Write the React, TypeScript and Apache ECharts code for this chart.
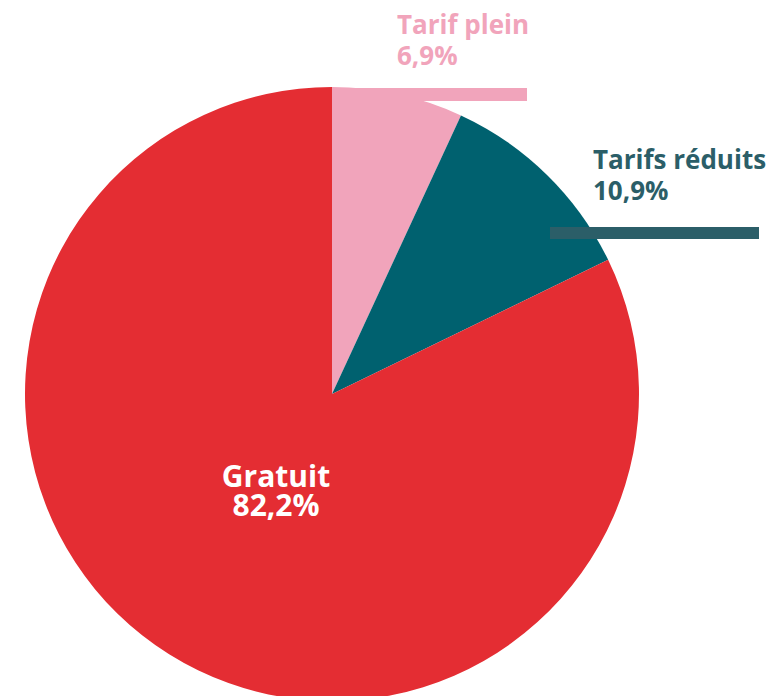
import React, { useEffect, useRef } from "react";
import * as echarts from "echarts";

const categories = ["Tarif plein", "Tarifs réduits", "Gratuit"];
const values = [6.9, 10.9, 82.2];
const sliceColors = ["#F1A4BB", "#00616F", "#E42D33"];
const labelColors = ["#F1A4BB", "#2B5E68", "#FFFFFF"];

const fmt = (v: number) => v.toFixed(1).replace(".", ",") + "%";

export default function App() {
  const ref = useRef<HTMLDivElement>(null);
  useEffect(() => {
    if (!ref.current) return;
    const chart = echarts.init(ref.current, null, { renderer: "svg" });
    const labelPos = [
      { x: 397, y: 8, align: "left" },
      { x: 593, y: 143, align: "left" },
      { x: 276, y: 461, align: "center" },
    ];
    chart.setOption({
      animation: false,
      backgroundColor: "#ffffff",
      series: [
        {
          type: "pie",
          center: [332, 394],
          radius: 307,
          startAngle: 90,
          clockwise: true,
          silent: true,
          z: 1,
          data: categories.map((c, i) => ({
            name: c,
            value: values[i],
            itemStyle: { color: sliceColors[i], borderWidth: 0 },
            label: {
              show: true,
              position: i === 2 ? "inside" : "outside",
              color: labelColors[i],
              fontFamily: "Open Sans",
              fontWeight: "bold",
              fontSize: i === 2 ? 30 : 26,
              lineHeight: i === 2 ? 29 : 31,
              formatter: () => c + "\n" + fmt(values[i]),
            },
            labelLine: { show: false },
          })),
          labelLayout: (p: any) => ({
            x: labelPos[p.dataIndex].x,
            y: labelPos[p.dataIndex].y,
            align: labelPos[p.dataIndex].align,
            verticalAlign: "top",
            moveOverlap: false,
          }),
        },
      ],
      graphic: [
        {
          type: "rect",
          z: 10,
          shape: { x: 332, y: 88, width: 195, height: 13 },
          style: { fill: sliceColors[0] },
        },
        {
          type: "rect",
          z: 10,
          shape: { x: 550, y: 227, width: 209, height: 12 },
          style: { fill: "#2B5E68" },
        },
      ],
    });
    return () => chart.dispose();
  }, []);
  return <div ref={ref} style={{ width: 780, height: 696, position: "absolute", left: 0, top: 0 }} />;
}
